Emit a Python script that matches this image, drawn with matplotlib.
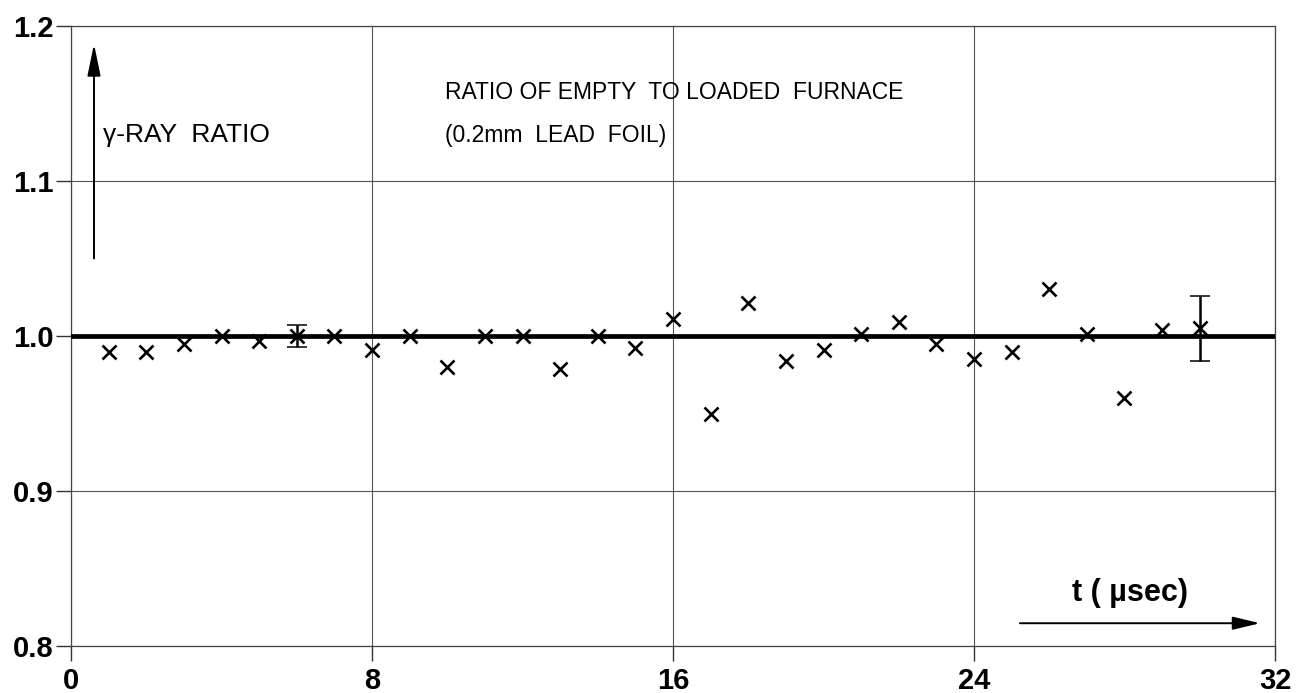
import matplotlib
matplotlib.use("Agg")
import matplotlib.pyplot as plt

# gamma-ray ratio, empty / loaded furnace, per time channel
t_usec = [1, 2, 3, 4, 5, 6, 7, 8, 9, 10, 11, 12, 13, 14, 15,
          16, 17, 18, 19, 20, 21, 22, 23, 24, 25, 26, 27, 28, 29, 30]
ratio = [0.990, 0.990, 0.995, 1.000, 0.997, 1.000, 1.000, 0.991, 1.000, 0.980,
         1.000, 1.000, 0.979, 1.000, 0.992, 1.011, 0.950, 1.021, 0.984, 0.991,
         1.001, 1.009, 0.995, 0.985, 0.990, 1.030, 1.001, 0.960, 1.004, 1.005]

# representative error bars
err_t = [6, 30]
err_ratio = [1.000, 1.005]
err_size = [0.0068, 0.021]

x_ticks = [0, 8, 16, 24, 32]
y_ticks = [0.8, 0.9, 1.0, 1.1, 1.2]
y_tick_labels = ["0.8", "0.9", "1.0", "1.1", "1.2"]

FONT = ["Liberation Sans", "DejaVu Sans"]

fig = plt.figure(figsize=(12.99, 6.93), dpi=100)
ax = fig.add_axes([0.0547, 0.0678, 0.9268, 0.8947])

ax.set_xlim(0, 32)
ax.set_ylim(0.8, 1.2)
ax.set_xticks(x_ticks)
ax.set_yticks(y_ticks)
ax.set_yticklabels(y_tick_labels)
ax.grid(True, color="#555555", lw=0.8)
for sp in ax.spines.values():
    sp.set_color("#444444")
    sp.set_linewidth(0.9)
ax.tick_params(axis="both", direction="out", length=11, width=1.0, color="#333333")
ax.tick_params(axis="y", pad=1.5)
ax.tick_params(axis="x", pad=4)
for lab in ax.get_xticklabels() + ax.get_yticklabels():
    lab.set_fontfamily(FONT)
    lab.set_fontsize(21)
    lab.set_fontweight("bold")

# reference line at unity
ax.axhline(1.0, color="black", lw=3.4, zorder=3)

ax.plot(t_usec, ratio, ls="none", marker="x", ms=10, mew=1.9, color="black", zorder=4)
ax.errorbar(err_t, err_ratio, yerr=err_size, fmt="none", ecolor="black",
            elinewidth=1.8, capsize=7, capthick=1.1, zorder=4)

# axis direction arrows
ax.annotate("", xy=(0.61, 1.1884), xytext=(0.61, 1.05),
            arrowprops=dict(arrowstyle="-|>,head_length=0.97,head_width=0.2",
                            color="black", lw=1.4, mutation_scale=20,
                            shrinkA=0, shrinkB=0))
ax.annotate("", xy=(31.6, 0.8147), xytext=(25.22, 0.8147),
            arrowprops=dict(arrowstyle="-|>,head_length=0.83,head_width=0.2",
                            color="black", lw=1.4, mutation_scale=20,
                            shrinkA=0, shrinkB=0))

ax.text(0.85, 1.1252, "\u03b3-RAY  RATIO", family=FONT, fontsize=19,
        va="baseline", ha="left")
ax.text(9.94, 1.1529, "RATIO OF EMPTY  TO LOADED  FURNACE", family=FONT,
        fontsize=16.5, va="baseline", ha="left")
ax.text(9.94, 1.1252, "(0.2mm  LEAD  FOIL)", family=FONT,
        fontsize=16.5, va="baseline", ha="left")
ax.text(28.15, 0.8342, "t ( \u00b5sec)", family=FONT, fontsize=22,
        fontweight="bold", va="center", ha="center")

fig.savefig("out.png", dpi=100)
